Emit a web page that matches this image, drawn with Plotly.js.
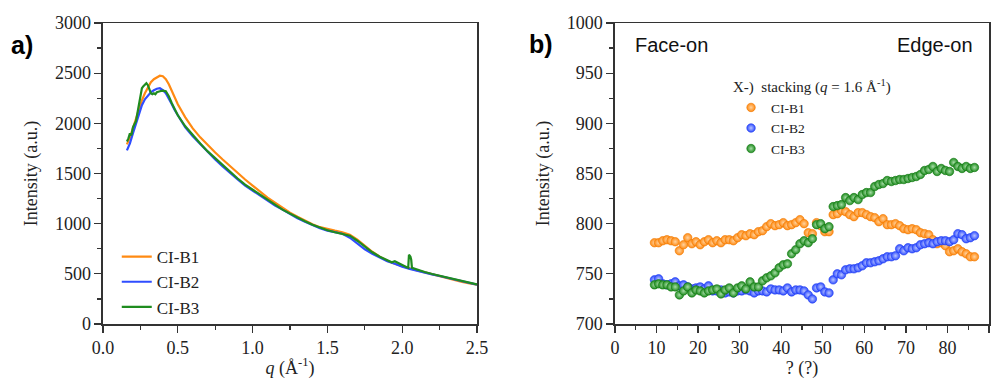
<!DOCTYPE html>
<html><head><meta charset="utf-8">
<script src="https://cdn.plot.ly/plotly-3.0.1.min.js"></script>
<style>html,body{margin:0;padding:0;background:#fff}#chart{width:998px;height:380px}</style>
</head><body><div id="chart"></div>
<script>
// ---- Panel a) data ----
const qB1 = [0.16,0.18,0.20,0.22,0.24,0.26,0.28,0.30,0.32,0.34,0.36,0.38,0.40,0.42,0.44,0.46,0.48,0.50,0.55,0.60,0.65,0.70,0.75,0.80,0.85,0.90,0.95,1.00,1.05,1.10,1.15,1.20,1.25,1.30,1.35,1.40,1.45,1.50,1.55,1.60,1.65,1.70,1.75,1.80,1.85,1.90,1.95,2.00,2.05,2.10,2.15,2.20,2.25,2.30,2.35,2.40,2.45,2.50];
const iB1 = [1790,1860,1950,2050,2150,2230,2300,2360,2410,2440,2460,2475,2470,2440,2390,2320,2250,2190,2060,1950,1860,1780,1710,1640,1570,1500,1440,1380,1320,1260,1210,1160,1110,1070,1030,995,965,945,930,915,890,840,780,720,670,630,600,575,555,535,515,495,478,460,440,420,405,392];
const qB2 = [0.16,0.18,0.20,0.22,0.24,0.26,0.28,0.30,0.32,0.34,0.36,0.38,0.40,0.42,0.44,0.46,0.48,0.50,0.55,0.60,0.65,0.70,0.75,0.80,0.85,0.90,0.95,1.00,1.05,1.10,1.15,1.20,1.25,1.30,1.35,1.40,1.45,1.50,1.55,1.60,1.65,1.70,1.75,1.80,1.85,1.90,1.95,2.00,2.05,2.10,2.15,2.20,2.25,2.30,2.35,2.40,2.45,2.50];
const iB2 = [1730,1800,1900,2000,2100,2180,2240,2280,2310,2330,2345,2350,2330,2300,2250,2190,2130,2080,1960,1870,1790,1710,1640,1570,1500,1440,1380,1330,1280,1230,1180,1140,1095,1055,1020,985,955,930,915,900,860,800,745,700,660,625,600,570,550,530,512,495,478,460,440,422,405,392];
const qB3 = [0.16,0.17,0.18,0.19,0.20,0.21,0.22,0.23,0.24,0.25,0.26,0.27,0.28,0.29,0.30,0.31,0.32,0.33,0.34,0.35,0.36,0.38,0.40,0.42,0.44,0.46,0.48,0.50,0.55,0.60,0.65,0.70,0.75,0.80,0.85,0.90,0.95,1.00,1.05,1.10,1.15,1.20,1.25,1.30,1.35,1.40,1.45,1.50,1.55,1.60,1.65,1.70,1.75,1.80,1.85,1.90,1.93,1.95,1.97,2.00,2.03,2.04,2.045,2.055,2.06,2.065,2.10,2.15,2.20,2.25,2.30,2.35,2.40,2.45,2.50];
const iB3 = [1820,1850,1900,1880,1960,1990,2020,2100,2180,2280,2350,2370,2390,2400,2380,2330,2300,2290,2300,2290,2310,2320,2325,2320,2270,2200,2140,2080,1970,1880,1800,1720,1650,1580,1510,1450,1390,1340,1285,1235,1185,1140,1100,1060,1025,990,960,935,915,900,880,830,770,715,670,635,615,625,608,585,565,560,690,670,640,560,540,518,498,480,462,443,425,408,395];

// ---- Panel b) data ----
const theta = [9.5,10.5,11.5,12.5,13.5,14.5,15.5,16.5,17.5,18.5,19.5,20.5,21.5,22.5,23.5,24.5,25.5,26.5,27.5,28.5,29.5,30.5,31.5,32.5,33.5,34.5,35.5,36.5,37.5,38.5,39.5,40.5,41.5,42.5,43.5,44.5,45.5,46.5,47.5,48.5,49.5,50.5,51.5,52.5,53.5,54.5,55.5,56.5,57.5,58.5,59.5,60.5,61.5,62.5,63.5,64.5,65.5,66.5,67.5,68.5,69.5,70.5,71.5,72.5,73.5,74.5,75.5,76.5,77.5,78.5,79.5,80.5,81.5,82.5,83.5,84.5,85.5,86.5];
const sB1 = [781,781,783,784,783,782,773,779,786,780,782,779,782,784,781,783,781,784,784,783,786,789,788,790,789,792,793,797,800,798,799,801,798,799,801,804,800,791,790,801,798,792,792,809,810,813,812,809,807,811,811,809,807,806,802,805,799,799,800,798,795,794,795,794,791,790,789,784,780,781,778,772,773,775,772,770,767,767];
const sB2 = [744,745,740,739,740,742,738,739,737,735,736,737,735,738,733,733,734,731,732,731,733,733,734,733,731,733,733,732,735,734,734,733,736,732,734,734,733,729,725,736,737,732,731,744,750,749,754,755,755,756,758,761,761,762,763,765,767,767,768,775,773,776,775,776,779,780,781,780,782,783,783,782,784,790,789,785,786,788];
const sB3 = [739,740,739,739,737,737,729,733,737,731,734,733,731,733,734,735,730,734,736,731,736,738,735,742,737,737,743,746,748,751,756,759,760,770,774,780,783,781,785,799,800,795,797,817,818,819,826,823,826,824,829,831,831,837,839,840,843,842,843,844,844,845,846,847,849,853,854,857,852,855,853,852,861,857,855,857,855,856];

const names = ['CI-B1','CI-B2','CI-B3'];
const cols = ['#ff8a12','#2f4dff','#1f8c1f'];
const light = ['#ffd3a0','#b9c4ff','#a6dca6'];
const dark = ['#f07800','#1f3bf0','#137813'];

const serif = 'Liberation Serif';
const sans = 'Liberation Sans';
const axc = '#333333';

const traces = [];
[[qB1,iB1],[qB2,iB2],[qB3,iB3]].forEach((d,k)=>{
  traces.push({x:d[0], y:d[1], type:'scatter', mode:'lines', name:names[k],
    line:{color:cols[k], width:2.2}, xaxis:'x', yaxis:'y', legend:'legend'});
});
[sB1,sB2,sB3].forEach((d,k)=>{
  traces.push({x:theta, y:d, type:'scatter', mode:'markers', name:names[k],
    marker:{color:cols[k], size:8.5, gradient:{type:'radial', color:light[k]}, line:{color:dark[k], width:0.6}},
    xaxis:'x2', yaxis:'y2', legend:'legend2'});
});

function ax(extra){
  return Object.assign({
    showgrid:false, zeroline:false, showline:true, linecolor:axc, linewidth:1.5,
    mirror:true, ticks:'outside', ticklen:7, tickwidth:1.3, tickcolor:axc,
    tickfont:{family:serif, size:18, color:'#222'}, automargin:false
  }, extra);
}

const layout = {
  width:998, height:380,
  margin:{l:0, r:0, t:23, b:56},
  paper_bgcolor:'#fff', plot_bgcolor:'#fff',
  showlegend:true,
  xaxis: ax({domain:[0.1032,0.478], range:[0,2.5], dtick:0.5, tickformat:'.1f',
    minor:{dtick:0.25, ticks:'outside', ticklen:4, tickcolor:axc},
    title:{text:'<i>q</i> (Å<sup>-1</sup>)', font:{family:serif, size:18, color:'#222'}, standoff:4}}),
  yaxis: ax({domain:[0,1], range:[0,3000], dtick:500,
    minor:{dtick:250, ticks:'outside', ticklen:4, tickcolor:axc},
    title:{text:'Intensity (a.u.)', font:{family:serif, size:18, color:'#222'}, standoff:12}}),
  xaxis2: ax({domain:[0.6162,0.991], range:[0,90], dtick:10, anchor:'y2',
    minor:{dtick:5, ticks:'outside', ticklen:4, tickcolor:axc},
    title:{text:'? (?)', font:{family:serif, size:18, color:'#222'}, standoff:4}}),
  yaxis2: ax({domain:[0,1], range:[700,1000], dtick:50, anchor:'x2',
    minor:{dtick:25, ticks:'outside', ticklen:4, tickcolor:axc},
    title:{text:'Intensity (a.u.)', font:{family:serif, size:18, color:'#222'}, standoff:12}}),
  legend:{x:0.117, y:0.282, xanchor:'left', yanchor:'top', bgcolor:'rgba(0,0,0,0)',
    font:{family:serif, size:17, color:'#222'}, tracegroupgap:0},
  legend2:{x:0.7325, y:0.835, xanchor:'left', yanchor:'top', bgcolor:'rgba(0,0,0,0)',
    font:{family:serif, size:13.5, color:'#222'}, tracegroupgap:0,
    title:{text:'X-)  stacking (<i>q</i> = 1.6 Å<sup>-1</sup>)', side:'top', font:{family:serif, size:15, color:'#222'}}},
  annotations:[
    {text:'<b>a)</b>', xref:'paper', yref:'paper', x:0.009, y:0.927, xanchor:'left', yanchor:'middle', showarrow:false, font:{family:sans, size:25, color:'#000'}},
    {text:'<b>b)</b>', xref:'paper', yref:'paper', x:0.528, y:0.93, xanchor:'left', yanchor:'middle', showarrow:false, font:{family:sans, size:25, color:'#000'}},
    {text:'Face-on', xref:'paper', yref:'paper', x:0.634, y:0.928, xanchor:'left', yanchor:'middle', showarrow:false, font:{family:sans, size:20, color:'#111'}},
    {text:'Edge-on', xref:'paper', yref:'paper', x:0.977, y:0.928, xanchor:'right', yanchor:'middle', showarrow:false, font:{family:sans, size:20, color:'#111'}}
  ]
};
Plotly.newPlot('chart', traces, layout, {displayModeBar:false, staticPlot:true});
</script></body></html>
